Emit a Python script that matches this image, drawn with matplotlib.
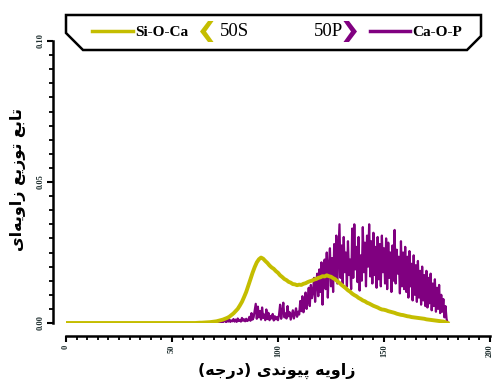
import numpy as np
import matplotlib
matplotlib.use("Agg")
import matplotlib.pyplot as plt
from matplotlib.patches import Polygon
from matplotlib.lines import Line2D
from matplotlib.ticker import MultipleLocator, FormatStrFormatter

# bond angle grids (degrees)
angles_si = np.arange(0, 181)
angles_ca = np.arange(70, 180.5, 0.5)

# Si-O-Ca angular distribution (x0.001)
si_o_ca = [0.0] * 60 + [
    0, 0, 0.05, 0.1, 0.1, 0.15, 0.2, 0.25, 0.3, 0.4,
    0.5, 0.6, 0.8, 1.0, 1.2, 1.5, 1.8, 2.2, 2.8, 3.4,
    4.2, 5.0, 6.2, 7.5, 9.2, 11.0, 13.2, 15.5, 17.8, 19.8,
    21.5, 22.6, 23.2, 22.8, 22.0, 21.3, 20.4, 19.7, 19.2, 18.4,
    17.8, 16.9, 16.3, 15.6, 15.2, 14.6, 14.3, 13.8, 13.7, 13.4,
    13.6, 13.5, 13.9, 14.1, 14.5, 14.8, 15.0, 15.4, 15.6, 16.0,
    16.2, 16.6, 16.5, 16.9, 16.6, 16.4, 15.9, 15.5, 14.8, 14.2,
    13.5, 12.9, 12.3, 11.6, 11.1, 10.4, 9.9, 9.5, 8.9, 8.5,
    8.0, 7.7, 7.2, 6.9, 6.5, 6.1, 5.8, 5.5, 5.1, 4.8,
    4.7, 4.5, 4.2, 4.0, 3.8, 3.6, 3.3, 3.1, 2.9, 2.8,
    2.6, 2.4, 2.3, 2.1, 2.0, 1.9, 1.8, 1.7, 1.6, 1.5,
    1.3, 1.2, 1.1, 1.0, 0.9, 0.8, 0.7, 0.6, 0.5, 0.3, 0.0,
]

# Ca-O-P angular distribution, 70..180 in 0.5 deg steps (x0.001)
ca_o_p = [
    0, 0.2, 0, 0.4, 0.1, 0.5, 0.2, 0.8, 0.3, 0.6,
    0.9, 0.3, 1.1, 0.5, 1.3, 0.4, 0.9, 0.6, 1.4, 0.5,
    1.2, 0.4, 1.6, 0.7, 1.1, 0.5, 1.8, 0.8, 1.3, 0.6,
    1.5, 0.7, 1.0, 2.2, 0.8, 3.5, 1.2, 2.0, 4.5, 6.8,
    1.5, 5.8, 2.0, 4.2, 1.2, 5.5, 1.8, 3.0, 1.0, 4.8,
    1.4, 3.6, 1.0, 2.5, 1.6, 3.2, 0.9, 2.4, 1.3, 2.1,
    1.0, 3.0, 6.5, 1.5, 4.0, 7.2, 2.0, 3.4, 1.6, 6.0,
    2.4, 3.8, 1.2, 2.9, 4.5, 1.6, 3.2, 5.2, 2.2, 4.0,
    3.0, 7.8, 4.2, 9.5, 3.8, 6.0, 10.8, 5.0, 8.2, 12.5,
    6.0, 13.5, 8.8, 11.0, 16.0, 7.5, 14.0, 17.5, 9.5, 19.0,
    11.0, 21.5, 6.5, 18.0, 22.5, 12.0, 25.0, 9.0, 20.5, 26.5,
    13.0, 23.0, 11.0, 28.0, 15.5, 31.0, 14.0, 24.5, 35.0, 16.0,
    27.5, 14.0, 30.5, 18.0, 25.0, 13.0, 29.0, 17.0, 22.5, 12.0,
    33.5, 16.0, 35.0, 19.0, 27.0, 14.5, 30.5, 11.5, 24.0, 15.0,
    34.0, 18.0, 28.5, 13.0, 31.0, 20.0, 35.0, 16.5, 29.0, 14.0,
    32.0, 17.0, 27.0, 12.5, 30.5, 15.5, 28.0, 13.0, 31.0, 18.0,
    26.5, 14.0, 30.0, 12.0, 28.5, 16.0, 25.0, 11.0, 27.5, 15.0,
    33.0, 14.0, 26.0, 17.5, 23.5, 10.5, 29.0, 13.0, 25.0, 12.0,
    27.0, 11.0, 23.5, 9.0, 25.5, 13.0, 21.0, 8.0, 24.0, 10.0,
    20.5, 7.5, 22.0, 9.0, 18.5, 6.5, 20.0, 8.0, 17.0, 6.0,
    18.5, 5.5, 16.0, 7.0, 17.5, 4.5, 14.0, 6.0, 15.5, 4.0,
    12.5, 5.0, 13.5, 3.5, 10.0, 4.0, 8.5, 2.0, 6.0, 1.5,
    0.0,
]

si_o_ca = np.array(si_o_ca) / 1000
ca_o_p = np.array(ca_o_p) / 1000

YELLOW = "#c4bd00"
PURPLE = "#800080"

# Persian labels, pre-shaped in visual order
xlabel = "(\ufeea\ufe9f\ufead\ufea9) \ufeef\ufeaa\ufee7\ufeee\ufef4\ufb58 \ufeea\ufef3\ufeed\ufe8d\ufeaf"
ylabel = "\ufeef\ufe8d\ufeea\ufef3\ufeed\ufe8d\ufeaf \ufeca\ufef3\ufeaf\ufeee\ufe97 \ufeca\ufe91\ufe8e\ufe97"

W, H = 495, 382
fig = plt.figure(figsize=(W / 100, H / 100), dpi=100)
ax = fig.add_axes([66 / W, 1 - 323 / H, 424 / W, (323 - 41) / H])


def px(x, y):
    return (x / W, 1 - y / H)


ax.plot(angles_ca, ca_o_p, color=PURPLE, lw=1.6)
ax.plot(angles_si, si_o_ca, color=YELLOW, lw=2.8)

ax.set_xlim(0, 200)
ax.set_ylim(0, 0.10)
for s in ["top", "right"]:
    ax.spines[s].set_visible(False)
for s in ["left", "bottom"]:
    ax.spines[s].set_position(("outward", 9.4))
    ax.spines[s].set_linewidth(1.8)
ax.spines["left"].set_bounds(0, 0.10)
ax.spines["bottom"].set_bounds(0, 200)

ax.xaxis.set_major_locator(MultipleLocator(50))
ax.xaxis.set_minor_locator(MultipleLocator(5))
ax.yaxis.set_major_locator(MultipleLocator(0.05))
ax.yaxis.set_minor_locator(MultipleLocator(0.005))
ax.yaxis.set_major_formatter(FormatStrFormatter("%.2f"))
ax.tick_params(which="major", direction="out", length=4, width=1.5, pad=2)
ax.tick_params(which="minor", direction="out", length=3, width=1.3)
for lab in ax.get_xticklabels() + ax.get_yticklabels():
    lab.set_fontfamily("Liberation Serif")
    lab.set_fontweight("bold")
    lab.set_fontsize(6)
    lab.set_rotation(90)
    lab.set_color("#1f2f2f")
for lab in ax.get_yticklabels():
    lab.set_va("center")

fig.text(*px(277, 371), xlabel, ha="center", va="center",
         fontfamily="DejaVu Sans", fontweight="bold", fontsize=11.5)
fig.text(*px(18, 180), ylabel, ha="center", va="center", rotation=90,
         fontfamily="DejaVu Sans", fontweight="bold", fontsize=11.5)

# legend box with chamfered bottom corners
box = [(66, 15), (481, 15), (481, 36), (467, 50), (83, 50), (66, 33)]
fig.add_artist(Polygon([px(*p) for p in box], closed=True, transform=fig.transFigure,
                       facecolor="white", edgecolor="black", lw=1.8))

fig.add_artist(Line2D([92 / W, 133 / W], [1 - 31 / H] * 2, transform=fig.transFigure,
                      color=YELLOW, lw=2.5))
fig.add_artist(Line2D([370 / W, 410 / W], [1 - 31 / H] * 2, transform=fig.transFigure,
                      color=PURPLE, lw=2.5))

serif = "Liberation Serif"
fig.text(*px(135, 32), "Si-O-Ca", ha="left", va="center", fontfamily=serif,
         fontweight="bold", fontsize=11)
fig.text(*px(220, 32), "50S", ha="left", va="center", fontfamily=serif, fontsize=13.5)
fig.text(*px(343, 32), "50P", ha="right", va="center", fontfamily=serif, fontsize=13.5)
fig.text(*px(412, 32), "Ca-O-P", ha="left", va="center", fontfamily=serif,
         fontweight="bold", fontsize=11)

chev_l = [(200, 31.5), (208, 21), (213.5, 21), (206, 31.5), (213.5, 42), (208, 42)]
chev_r = [(357, 31.5), (349, 21), (343.5, 21), (351, 31.5), (343.5, 42), (349, 42)]
fig.add_artist(Polygon([px(*p) for p in chev_l], closed=True, transform=fig.transFigure,
                       facecolor=YELLOW, edgecolor="none"))
fig.add_artist(Polygon([px(*p) for p in chev_r], closed=True, transform=fig.transFigure,
                       facecolor=PURPLE, edgecolor="none"))

fig.savefig("out.png", dpi=100)
